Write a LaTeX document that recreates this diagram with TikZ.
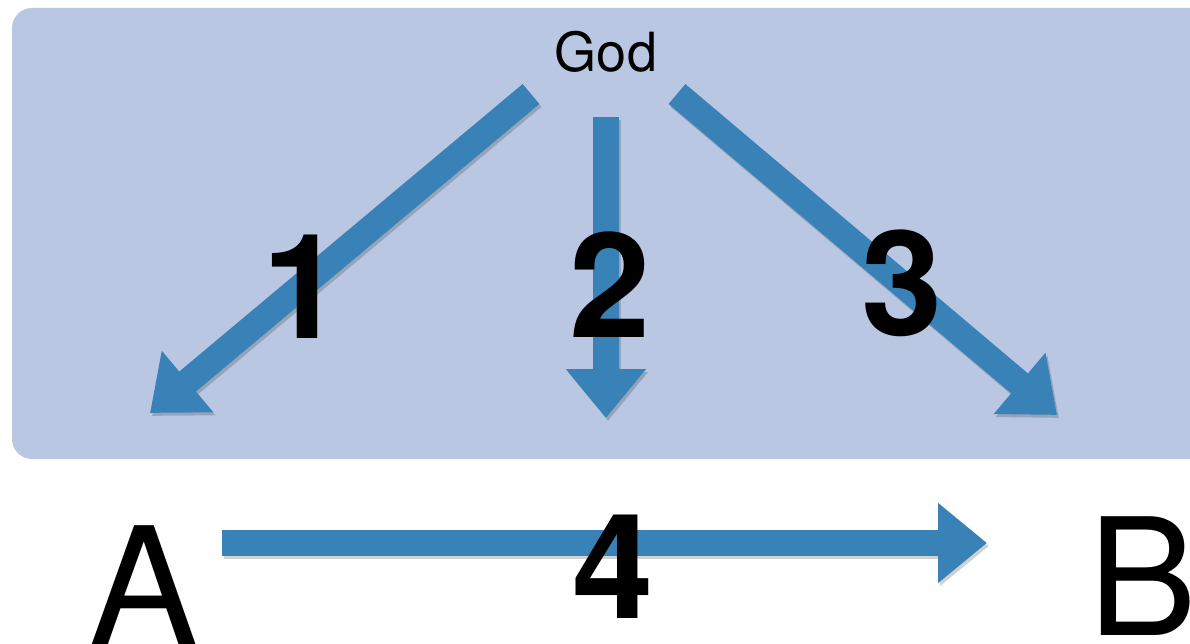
\documentclass[tikz,border=0pt]{standalone}
\usepackage{fontspec}
\setmainfont{TeX Gyre Heros}
\usetikzlibrary{arrows.meta}
\definecolor{bgblue}{RGB}{185,199,226}
\definecolor{arrowblue}{RGB}{56,130,183}
\tikzset{
  bluearrow/.style={draw=arrowblue, line width=26pt, line cap=butt,
    -{Triangle[width=77pt,length=49pt]}},
  shadowarrow/.style={draw=black, opacity=0.18, line width=26pt, line cap=butt,
    -{Triangle[width=77pt,length=49pt]}, transform canvas={xshift=2pt,yshift=-3pt}},
  bignum/.style={inner sep=0pt, anchor=base, font=\fontsize{146}{150}\selectfont\bfseries},
  bigletter/.style={inner sep=0pt, font=\fontsize{163}{170}\selectfont},
}
\begin{document}
\begin{tikzpicture}[x=1pt,y=-1pt]
\useasboundingbox (0,0) rectangle (1190,644);
\clip (0,0) rectangle (1190,644);
\fill[bgblue, rounded corners=20pt] (12,8) rectangle (1230,459);
\node[inner sep=0pt, anchor=base, font=\fontsize{54}{60}\selectfont] (god) at (606,72) {God};
\node[bigletter, anchor=base] (A) at (144,644) {A};
\node[bigletter, anchor=base west] (B) at (1088,635) {B};
\coordinate (s1) at (531,94);  \coordinate (t1) at (150,413);
\coordinate (s2) at (606,117); \coordinate (t2) at (606,418);
\coordinate (s3) at (677,94);  \coordinate (t3) at (1057,415);
\coordinate (s4) at (222,543); \coordinate (t4) at (987,543);
\foreach \i in {1,2,3,4}{
  \draw[shadowarrow] (s\i) -- (t\i);
  \draw[bluearrow] (s\i) -- (t\i);
}
\node[bignum] (n1) at (303,338) {1};
\node[bignum] (n2) at (610,337) {2};
\node[bignum] (n3) at (902,335) {3};
\node[bignum] (n4) at (613,618) {4};
\end{tikzpicture}
\end{document}
